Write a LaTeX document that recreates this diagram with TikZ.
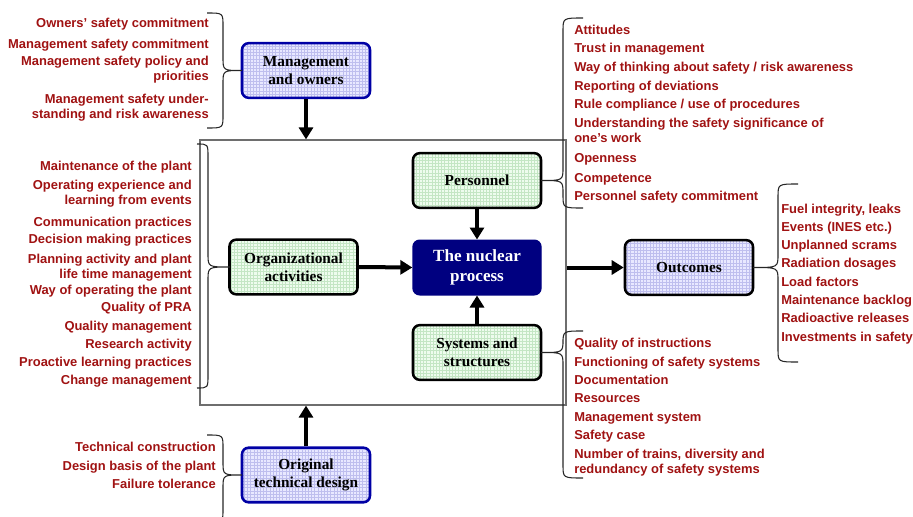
\documentclass[tikz,border=0pt]{standalone}
\usepackage{fontspec}
\setmainfont{Liberation Serif}
\newfontfamily\lsans{Liberation Sans}
\usetikzlibrary{arrows.meta}
\definecolor{dred}{RGB}{160,18,18}
\definecolor{dblue}{RGB}{0,0,165}
\definecolor{lav}{RGB}{232,232,255}
\definecolor{lavgrid}{RGB}{190,190,238}
\definecolor{lgreen}{RGB}{238,252,238}
\definecolor{lgreengrid}{RGB}{196,230,196}
\definecolor{navyc}{RGB}{0,0,128}
\definecolor{frameg}{RGB}{110,110,110}
\tikzset{
  box/.style={draw, line width=1.9pt, rounded corners=5pt, minimum width=96pt,
    minimum height=41pt, inner sep=0pt, align=center,
    font=\bfseries\fontsize{11.5}{13.5}\selectfont},
  gridfill/.style={path picture={\draw[#1, line width=0.45pt]
      (path picture bounding box.south west) grid[step=2.4pt]
      (path picture bounding box.north east);}},
  bluebox/.style={box, draw=dblue, fill=lav, gridfill=lavgrid},
  greenbox/.style={box, draw=black, fill=lgreen, gridfill=lgreengrid},
  arr/.style={line width=3pt, -{Triangle[length=9pt,width=10.5pt]}},
  brc/.style={line width=0.8pt, draw=black!85},
  itemtxt/.style={inner sep=0pt, text=dred, text height=8pt, text depth=1pt,
    font=\lsans\bfseries\fontsize{9.7}{11.4}\selectfont},
  itemr/.style={itemtxt, anchor=east, align=right},
  iteml/.style={itemtxt, anchor=west, align=left},
  twoline/.style={text height=19.4pt},
}
% brace: end x, vertical x, top y, bottom y, tip x, tip y
\newcommand{\mybrace}[6]{%
  \draw[brc] (#1,#3) .. controls (#2,#3) .. (#2,#3+13)
    -- (#2,#6-13) .. controls (#2,#6) .. (#5,#6)
    .. controls (#2,#6) .. (#2,#6+13)
    -- (#2,#4-13) .. controls (#2,#4) .. (#1,#4);}
\begin{document}
\begin{tikzpicture}[x=0.75pt,y=-0.75pt]
\useasboundingbox (0,0) rectangle (913,517);

% frame
\node[draw=frameg, line width=0.9pt, minimum width=274.5pt, minimum height=198.75pt, inner sep=0pt] (frame) at (383,272.5) {};

% boxes
\node[bluebox] (mgmt) at (306,70.5) {Management\\and owners};
\node[greenbox] (pers) at (477,180.5) {Personnel};
\node[greenbox] (org) at (293.5,267) {Organizational\\activities};
\node[box, draw=navyc, fill=navyc, text=white, line width=1pt, font=\bfseries\fontsize{12.8}{15}\selectfont] (nuc) at (477,267.5) {The nuclear\\process};
\node[greenbox] (sys) at (477,352.5) {Systems and\\structures};
\node[box, draw=black, fill=lav, gridfill=lavgrid] (out) at (689,267.5) {Outcomes};
\node[bluebox] (orig) at (306,475) {Original\\technical design};

% arrows
\draw[arr] (mgmt.south) -- (mgmt.south |- frame.north);
\draw[arr] (orig.north) -- (orig.north |- frame.south);
\draw[arr] (org.east) -- (nuc.west);
\draw[arr] (pers.south) -- (nuc.north);
\draw[arr] (sys.north) -- (nuc.south);
\draw[arr] (frame.east |- out.west) -- (out.west);

% braces
\mybrace{207}{223}{13}{128}{242}{70.5}
\mybrace{197}{208}{144}{388}{230}{267}
\mybrace{583}{563}{18}{208}{541}{180.5}
\mybrace{583}{563}{331}{478}{541}{352.5}
\mybrace{798}{778}{184}{362}{753}{267.5}
\mybrace{207}{223}{435}{522}{242}{475}

% management list
\node[itemr] (mg1) at (209,23) {Owners’ safety commitment};
\node[itemr] (mg2) at (209,44) {Management safety commitment};
\node[itemr, twoline] (mg3) at (209,68.5) {Management safety policy and\\priorities};
\node[itemr, twoline] (mg4) at (209,106) {Management safety under-\\standing and risk awareness};

% organizational list
\node[itemr] (og1) at (192,166) {Maintenance of the plant};
\node[itemr, twoline] (og2) at (192,192) {Operating experience and\\learning from events};
\node[itemr] (og3) at (192,222) {Communication practices};
\node[itemr] (og4) at (192,239) {Decision making practices};
\node[itemr, twoline] (og5) at (192,266) {Planning activity and plant\\life time management};
\node[itemr] (og6) at (192,290) {Way of operating the plant};
\node[itemr] (og7) at (192,307) {Quality of PRA};
\node[itemr] (og8) at (192,326) {Quality management};
\node[itemr] (og9) at (192,344) {Research activity};
\node[itemr] (og10) at (192,362) {Proactive learning practices};
\node[itemr] (og11) at (192,380) {Change management};

% personnel list
\node[iteml] (pe1) at (574,30) {Attitudes};
\node[iteml] (pe2) at (574,48) {Trust in management};
\node[iteml] (pe3) at (574,67) {Way of thinking about safety / risk awareness};
\node[iteml] (pe4) at (574,86) {Reporting of deviations};
\node[iteml] (pe5) at (574,104) {Rule compliance / use of procedures};
\node[iteml, twoline] (pe6) at (574,130.5) {Understanding the safety significance of\\one’s work};
\node[iteml] (pe7) at (574,158) {Openness};
\node[iteml] (pe8) at (574,178) {Competence};
\node[iteml] (pe9) at (574,196) {Personnel safety commitment};

% outcomes list
\node[iteml] (oc1) at (781,209) {Fuel integrity, leaks};
\node[iteml] (oc2) at (781,227) {Events (INES etc.)};
\node[iteml] (oc3) at (781,245) {Unplanned scrams};
\node[iteml] (oc4) at (781,263) {Radiation dosages};
\node[iteml] (oc5) at (781,282) {Load factors};
\node[iteml] (oc6) at (781,300) {Maintenance backlog};
\node[iteml] (oc7) at (781,318) {Radioactive releases};
\node[iteml] (oc8) at (781,337) {Investments in safety};

% systems list
\node[iteml] (sy1) at (574,343) {Quality of instructions};
\node[iteml] (sy2) at (574,362) {Functioning of safety systems};
\node[iteml] (sy3) at (574,380) {Documentation};
\node[iteml] (sy4) at (574,398) {Resources};
\node[iteml] (sy5) at (574,417) {Management system};
\node[iteml] (sy6) at (574,435) {Safety case};
\node[iteml, twoline] (sy7) at (574,461.5) {Number of trains, diversity and\\redundancy of safety systems};

% original design list
\node[itemr] (od1) at (216,447) {Technical construction};
\node[itemr] (od2) at (216,466) {Design basis of the plant};
\node[itemr] (od3) at (216,484) {Failure tolerance};
\end{tikzpicture}
\end{document}
